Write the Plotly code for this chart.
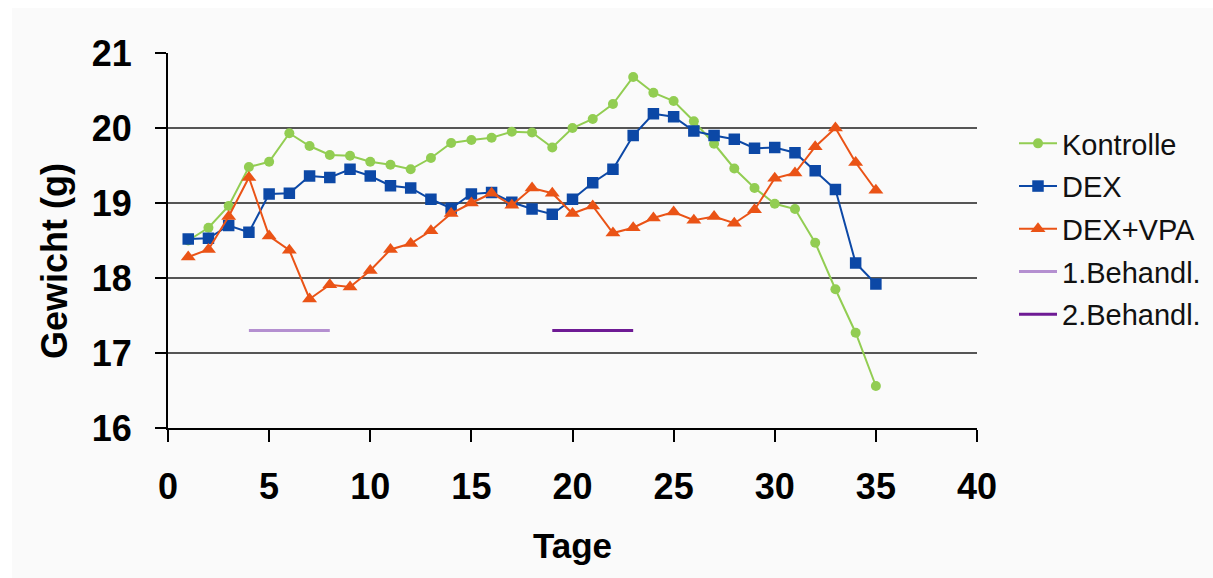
import plotly.graph_objects as go

# Tage (days of the experiment)
tage = list(range(1, 36))

# Body weight per group (g)
kontrolle = [18.50, 18.67, 18.96, 19.48, 19.55, 19.93, 19.76, 19.64, 19.63, 19.55,
             19.51, 19.45, 19.60, 19.80, 19.84, 19.87, 19.95, 19.94, 19.74, 20.00,
             20.12, 20.32, 20.68, 20.47, 20.36, 20.09, 19.79, 19.46, 19.20, 18.99,
             18.92, 18.47, 17.85, 17.27, 16.56]
dex = [18.52, 18.53, 18.70, 18.61, 19.12, 19.13, 19.36, 19.34, 19.45, 19.36,
       19.23, 19.20, 19.05, 18.93, 19.12, 19.14, 19.01, 18.92, 18.85, 19.05,
       19.27, 19.45, 19.90, 20.19, 20.15, 19.96, 19.90, 19.85, 19.73, 19.74,
       19.67, 19.43, 19.18, 18.20, 17.92]
dex_vpa = [18.28, 18.38, 18.82, 19.34, 18.56, 18.37, 17.72, 17.91, 17.88, 18.10,
           18.38, 18.46, 18.63, 18.86, 19.00, 19.13, 18.97, 19.20, 19.13, 18.86,
           18.96, 18.60, 18.67, 18.80, 18.88, 18.77, 18.82, 18.73, 18.91, 19.33,
           19.40, 19.75, 20.00, 19.54, 19.17]

# Treatment periods (start day, end day) and the level at which they are marked
behandl_1 = [4, 8]
behandl_2 = [19, 23]
behandl_level = [17.3, 17.3]

x_ticks = [0, 5, 10, 15, 20, 25, 30, 35, 40]
y_ticks = [16, 17, 18, 19, 20, 21]

FONT = "Liberation Sans, Arial, sans-serif"
BG = "#fafafa"

# Plot-area geometry in pixels (used for the paper-space decorations)
PL, PR, PT, PB = 168, 977, 53, 428
PW, PH = PR - PL, PB - PT

fig = go.Figure()

fig.add_trace(go.Scatter(
    x=tage, y=kontrolle, name="Kontrolle", mode="lines+markers",
    line=dict(color="#92cd52", width=2),
    marker=dict(symbol="circle", size=10, color="#92cd52", line=dict(width=0)),
    legendgroup="a"))
fig.add_trace(go.Scatter(
    x=tage, y=dex, name="DEX", mode="lines+markers",
    line=dict(color="#0c48a6", width=2),
    marker=dict(symbol="square", size=11.5, color="#0c48a6", line=dict(width=0)),
    legendgroup="b"))
fig.add_trace(go.Scatter(
    x=tage, y=dex_vpa, name="DEX+VPA", mode="lines+markers",
    line=dict(color="#ea5316", width=2),
    marker=dict(symbol="triangle-up", size=13, color="#ea5316", line=dict(width=0)),
    legendgroup="c"))
fig.add_trace(go.Scatter(
    x=behandl_1, y=behandl_level, name="1.Behandl.", mode="lines",
    line=dict(color="#b48fd0", width=3), legendgroup="d"))
fig.add_trace(go.Scatter(
    x=behandl_2, y=behandl_level, name="2.Behandl.", mode="lines",
    line=dict(color="#6e1a94", width=3), legendgroup="e"))

fig.update_layout(
    width=1213, height=578,
    margin=dict(l=PL, r=1213 - PR, t=PT, b=578 - PB, autoexpand=False),
    paper_bgcolor="white", plot_bgcolor=BG,
    font=dict(family=FONT, color="black"),
    shapes=[dict(type="rect", xref="paper", yref="paper",
                 x0=(12 - PL) / PW, x1=(1213 - PL) / PW,
                 y0=(PB - 578) / PH, y1=(PB - 8) / PH,
                 fillcolor=BG, line=dict(width=0), layer="below")],
    annotations=[dict(text="Gewicht (g)", textangle=-90, showarrow=False,
                      xref="paper", yref="paper",
                      x=(54 - PL) / PW, y=(PB - 261) / PH,
                      xanchor="center", yanchor="middle",
                      font=dict(family=FONT, size=36, weight="bold", color="black"))],
    legend=dict(
        x=(1014 - PL) / PW, y=(PB - 118) / PH, xanchor="left", yanchor="top",
        font=dict(family=FONT, size=29, color="#111"),
        bgcolor="rgba(0,0,0,0)", tracegroupgap=2, itemwidth=38),
    showlegend=True,
)

fig.update_xaxes(
    range=[0, 40], tickvals=x_ticks, showgrid=False, zeroline=False,
    showline=True, linecolor="black", linewidth=2,
    ticks="outside", ticklen=12, tickwidth=2, tickcolor="black",
    ticklabelstandoff=14,
    tickfont=dict(family=FONT, size=36, weight="bold"),
    title=dict(text="Tage", standoff=27,
               font=dict(family=FONT, size=35, weight="bold")))

fig.update_yaxes(
    range=[16, 21], tickvals=y_ticks, showgrid=True, gridcolor="#555",
    gridwidth=2, zeroline=False,
    showline=True, linecolor="black", linewidth=2,
    ticks="outside", ticklen=11, tickwidth=2, tickcolor="black",
    ticklabelstandoff=16,
    tickfont=dict(family=FONT, size=36, weight="bold"))

fig.write_html("out.html")
